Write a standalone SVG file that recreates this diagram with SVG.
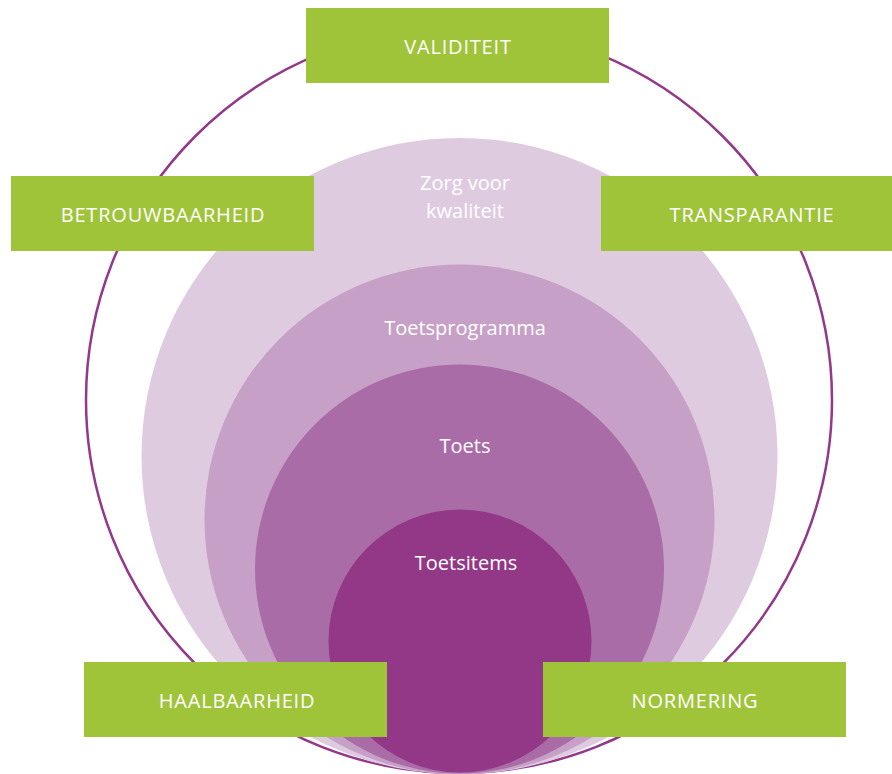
<svg xmlns="http://www.w3.org/2000/svg" width="892" height="774" viewBox="0 0 892 774">
<style>
.box{fill:#9fc43a}
.lbl{font-family:"Open Sans","Noto Sans","Liberation Sans",sans-serif;font-size:20px;fill:#ffffff;text-anchor:middle}
.cap{letter-spacing:0.8px}
</style>
<rect width="892" height="774" fill="#ffffff"/>
<g id="rings">
<circle id="outer" cx="459" cy="400" r="373" fill="none" stroke="#93388a" stroke-width="2.5"/>
<circle id="zorg" cx="459.5" cy="456" r="318" fill="#dfcbe0"/>
<circle id="programma" cx="459.5" cy="519.5" r="255" fill="#c6a0c7"/>
<circle id="toets" cx="459.5" cy="569" r="204.5" fill="#a96ca6"/>
<circle id="items" cx="460" cy="641" r="131.5" fill="#933886"/>
</g>
<g id="ring-labels">
<text class="lbl" x="465" y="190">Zorg voor</text>
<text class="lbl" x="465" y="218">kwaliteit</text>
<text class="lbl" x="465" y="335">Toetsprogramma</text>
<text class="lbl" x="465" y="453">Toets</text>
<text class="lbl" x="466" y="570">Toetsitems</text>
</g>
<g id="validiteit"><rect class="box" x="306" y="8" width="303" height="75"/><text class="lbl cap" x="458" y="54">VALIDITEIT</text></g>
<g id="betrouwbaarheid"><rect class="box" x="11" y="176" width="303" height="75"/><text class="lbl cap" x="163" y="222">BETROUWBAARHEID</text></g>
<g id="transparantie"><rect class="box" x="601" y="176" width="291" height="75"/><text class="lbl cap" x="752" y="222">TRANSPARANTIE</text></g>
<g id="haalbaarheid"><rect class="box" x="84" y="662" width="303" height="75"/><text class="lbl cap" x="237" y="708">HAALBAARHEID</text></g>
<g id="normering"><rect class="box" x="543" y="662" width="303" height="75"/><text class="lbl cap" x="695" y="708">NORMERING</text></g>
<g id="connectors"/>
</svg>
